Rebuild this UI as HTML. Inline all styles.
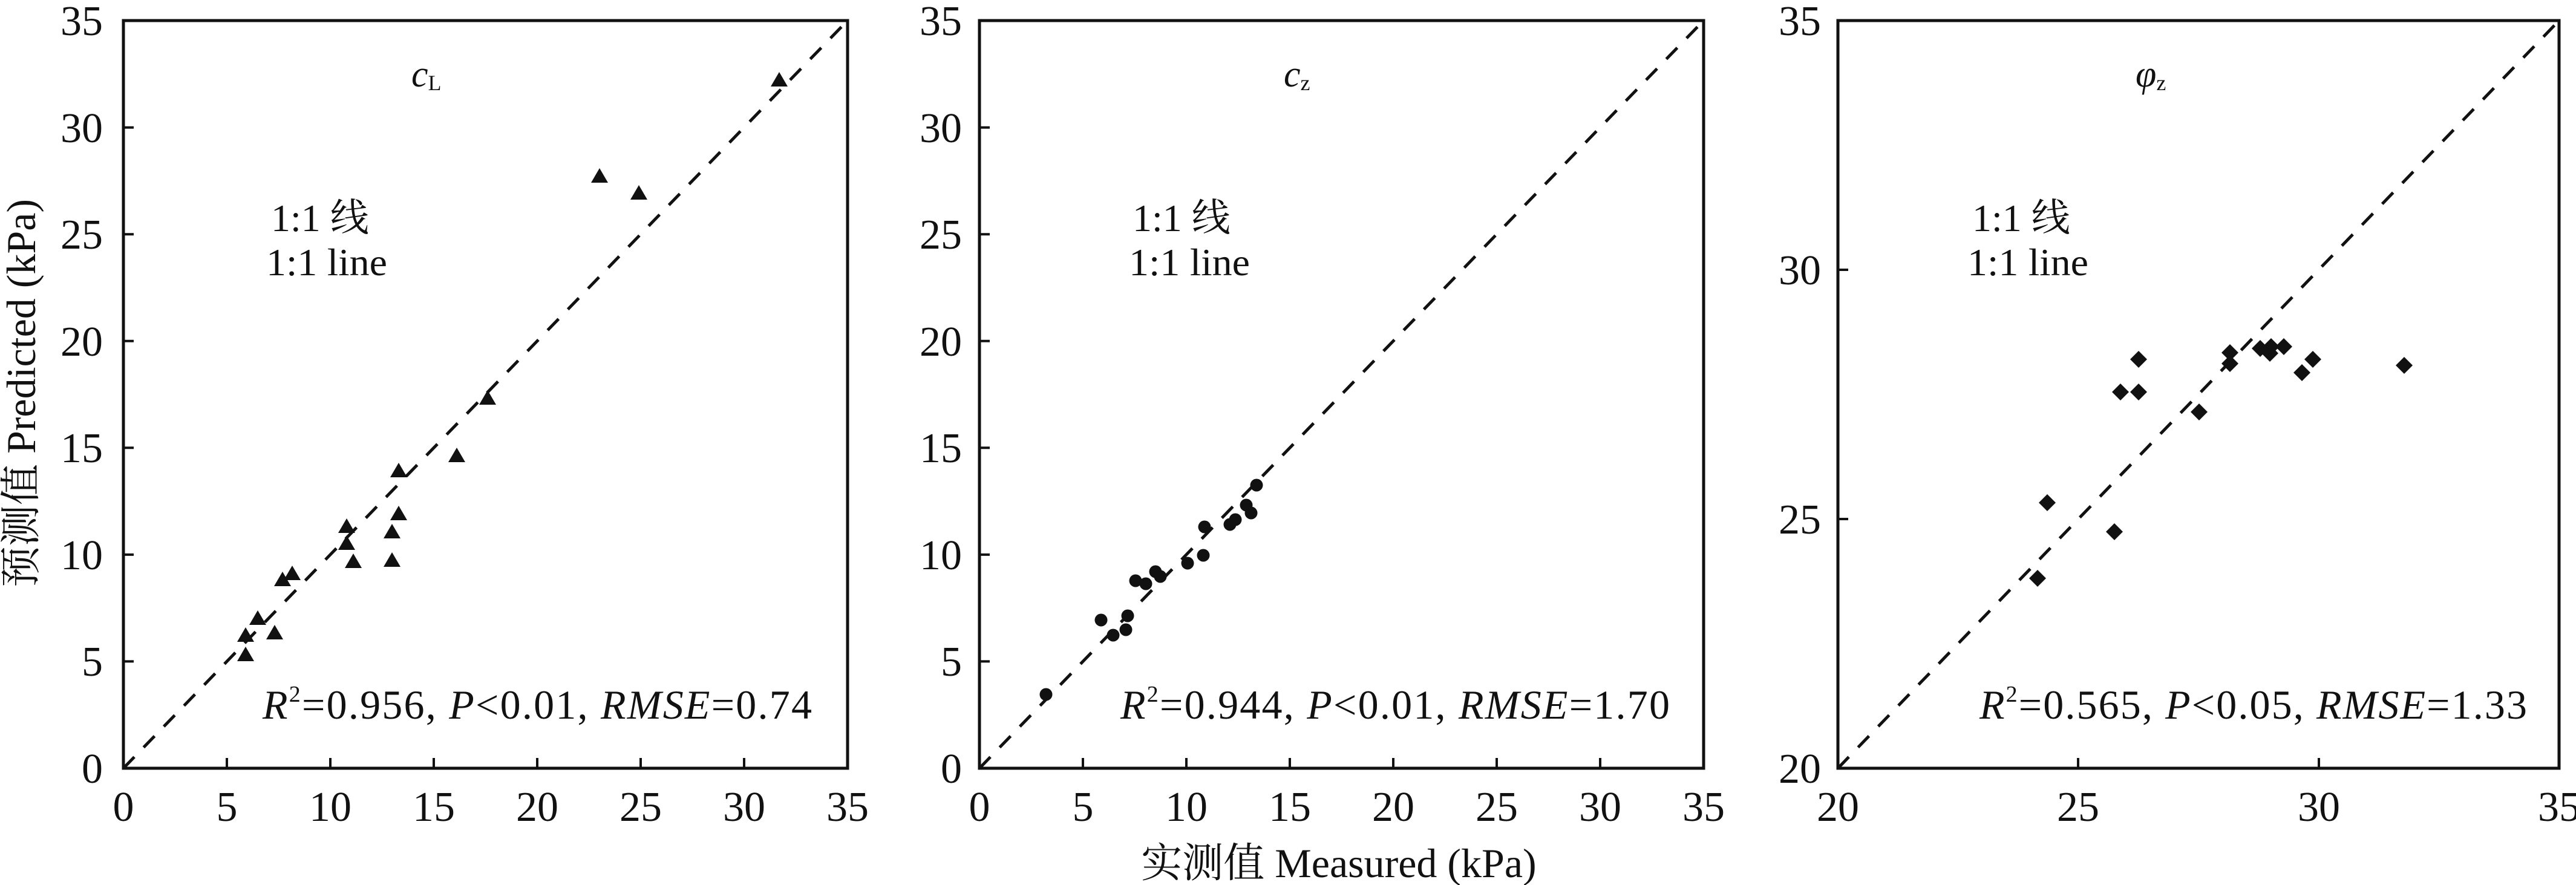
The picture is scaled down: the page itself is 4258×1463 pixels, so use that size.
<!DOCTYPE html>
<html><head><meta charset="utf-8"><style>
html,body{margin:0;padding:0;background:#fff;}
svg{display:block;}
text{font-family:"Liberation Serif","Times New Roman","DejaVu Serif",serif;fill:#111;}
.cjk{font-family:"Noto Serif CJK SC","Noto Sans CJK SC","WenQuanYi Zen Hei",serif;}
</style></head><body>
<svg width="4258" height="1463" viewBox="0 0 4258 1463" xmlns="http://www.w3.org/2000/svg">
<g stroke="#111" fill="none">
<rect x="204" y="34" width="1197" height="1236" stroke-width="5"/>
<rect x="1619" y="34" width="1197" height="1236" stroke-width="5"/>
<rect x="3038" y="34" width="1192" height="1236" stroke-width="5"/>
<g stroke-width="5" stroke-dasharray="26,22">
<line x1="204" y1="1270" x2="1401" y2="34"/>
<line x1="1619" y1="1270" x2="2816" y2="34"/>
<line x1="3038" y1="1270" x2="4230" y2="34"/>
</g>
<g stroke-width="4">
<path d="M375 1270v-17M546 1270v-17M717 1270v-17M888 1270v-17M1059 1270v-17M1230 1270v-17"/>
<path d="M204 1093.4h17M204 916.9h17M204 740.3h17M204 563.8h17M204 387.2h17M204 210.7h17"/>
<path d="M1790 1270v-17M1961 1270v-17M2132 1270v-17M2303 1270v-17M2474 1270v-17M2645 1270v-17"/>
<path d="M1619 1093.4h17M1619 916.9h17M1619 740.3h17M1619 563.8h17M1619 387.2h17M1619 210.7h17"/>
<path d="M3435 1270v-17M3833 1270v-17"/>
<path d="M3038 858h17M3038 446h17"/>
</g>
</g>
<g fill="#111">
<path d="M1288 119l-14 24h28zM991 278l-14 24h28zM1056 306l-14 24h28zM806 645l-14 24h28zM755 740l-14 24h28zM659 765l-14 24h28zM659 836l-14 24h28zM648 866l-14 24h28zM648 913l-14 24h28zM573 857l-14 24h28zM573 885l-14 24h28zM584 915l-14 24h28zM483 935l-14 24h28zM467 945l-14 24h28zM426 1009l-14 24h28zM454 1033l-14 24h28zM406 1037l-14 24h28zM406 1069l-14 24h28z"/>
<circle cx="1729" cy="1148" r="10.5"/><circle cx="1820" cy="1025" r="10.5"/><circle cx="1840" cy="1050" r="10.5"/>
<circle cx="1861" cy="1041" r="10.5"/><circle cx="1864" cy="1018" r="10.5"/><circle cx="1877" cy="960" r="10.5"/>
<circle cx="1894" cy="965" r="10.5"/><circle cx="1910" cy="945" r="10.5"/><circle cx="1918" cy="953" r="10.5"/>
<circle cx="1963" cy="931" r="10.5"/><circle cx="1989" cy="918" r="10.5"/><circle cx="1991" cy="871" r="10.5"/>
<circle cx="2033" cy="867" r="10.5"/><circle cx="2042" cy="859" r="10.5"/><circle cx="2060" cy="835" r="10.5"/>
<circle cx="2068" cy="848" r="10.5"/><circle cx="2077" cy="802" r="10.5"/>
<path d="M3368 942l14 14l-14 14l-14-14zM3384 817l14 14l-14 14l-14-14zM3495 865l14 14l-14 14l-14-14zM3505 634l14 14l-14 14l-14-14zM3535 634l14 14l-14 14l-14-14zM3535 580l14 14l-14 14l-14-14zM3635 667l14 14l-14 14l-14-14zM3686 569l14 14l-14 14l-14-14zM3686 587l14 14l-14 14l-14-14zM3736 562l14 14l-14 14l-14-14zM3752 570l14 14l-14 14l-14-14zM3754 559l14 14l-14 14l-14-14zM3775 559l14 14l-14 14l-14-14zM3805 602l14 14l-14 14l-14-14zM3823 580l14 14l-14 14l-14-14zM3974 590l14 14l-14 14l-14-14z"/>
</g>
<g font-size="70">
<g text-anchor="middle">
<text x="204" y="1357">0</text><text x="375" y="1357">5</text><text x="546" y="1357">10</text><text x="717" y="1357">15</text><text x="888" y="1357">20</text><text x="1059" y="1357">25</text><text x="1230" y="1357">30</text><text x="1401" y="1357">35</text>
<text x="1619" y="1357">0</text><text x="1790" y="1357">5</text><text x="1961" y="1357">10</text><text x="2132" y="1357">15</text><text x="2303" y="1357">20</text><text x="2474" y="1357">25</text><text x="2645" y="1357">30</text><text x="2816" y="1357">35</text>
<text x="3038" y="1357">20</text><text x="3435" y="1357">25</text><text x="3833" y="1357">30</text><text x="4230" y="1357">35</text>
</g>
<g text-anchor="end">
<text x="170" y="1294">0</text><text x="170" y="1117">5</text><text x="170" y="941">10</text><text x="170" y="764">15</text><text x="170" y="588">20</text><text x="170" y="411">25</text><text x="170" y="235">30</text><text x="170" y="58">35</text>
<text x="1590" y="1294">0</text><text x="1590" y="1117">5</text><text x="1590" y="941">10</text><text x="1590" y="764">15</text><text x="1590" y="588">20</text><text x="1590" y="411">25</text><text x="1590" y="235">30</text><text x="1590" y="58">35</text>
<text x="3010" y="1294">20</text><text x="3010" y="882">25</text><text x="3010" y="470">30</text><text x="3010" y="58">35</text>
</g>
</g>
<text x="680" y="143" font-size="62" font-style="italic">c<tspan font-size="36" font-style="normal" dy="6">L</tspan></text>
<text x="2122" y="143" font-size="62" font-style="italic">c<tspan font-size="36" font-style="normal" dy="6">z</tspan></text>
<text x="3530" y="143" font-size="62" font-style="italic">φ<tspan font-size="36" font-style="normal" dy="6">z</tspan></text>
<g font-size="64">
<text x="448" y="382">1:1 <tspan class="cjk">线</tspan></text>
<text x="440" y="455" textLength="200" lengthAdjust="spacingAndGlyphs">1:1 line</text>
<text x="1872" y="382">1:1 <tspan class="cjk">线</tspan></text>
<text x="1866" y="455" textLength="200" lengthAdjust="spacingAndGlyphs">1:1 line</text>
<text x="3260" y="382">1:1 <tspan class="cjk">线</tspan></text>
<text x="3252" y="455" textLength="200" lengthAdjust="spacingAndGlyphs">1:1 line</text>
</g>
<g font-size="68">
<text x="434" y="1188" textLength="908" lengthAdjust="spacing"><tspan font-style="italic">R</tspan><tspan font-size="38" dy="-28">2</tspan><tspan dy="28">=0.956, </tspan><tspan font-style="italic">P</tspan>&lt;0.01, <tspan font-style="italic">RMSE</tspan>=0.74</text>
<text x="1852" y="1188" textLength="908" lengthAdjust="spacing"><tspan font-style="italic">R</tspan><tspan font-size="38" dy="-28">2</tspan><tspan dy="28">=0.944, </tspan><tspan font-style="italic">P</tspan>&lt;0.01, <tspan font-style="italic">RMSE</tspan>=1.70</text>
<text x="3272" y="1188" textLength="905" lengthAdjust="spacing"><tspan font-style="italic">R</tspan><tspan font-size="38" dy="-28">2</tspan><tspan dy="28">=0.565, </tspan><tspan font-style="italic">P</tspan>&lt;0.05, <tspan font-style="italic">RMSE</tspan>=1.33</text>
</g>
<text x="2213" y="1450" font-size="68" text-anchor="middle"><tspan class="cjk">实测值</tspan> Measured (kPa)</text>
<text transform="translate(58,650) rotate(-90)" font-size="68" text-anchor="middle"><tspan class="cjk">预测值</tspan> Predicted (kPa)</text>
</svg>
</body></html>
